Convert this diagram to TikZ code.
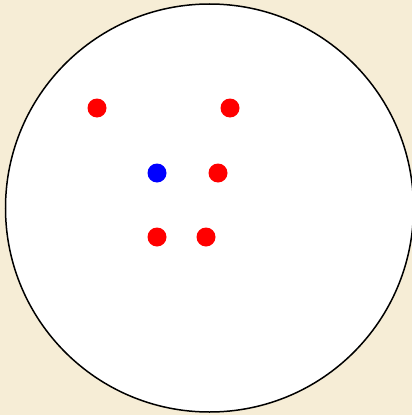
\documentclass[tikz,border=0pt]{standalone}
\usetikzlibrary{positioning}
\definecolor{paper}{RGB}{246,237,214}
\definecolor{dotred}{RGB}{255,0,0}
\definecolor{dotblue}{RGB}{0,0,255}

\begin{document}
\begin{tikzpicture}[
    x=1pt, y=-1pt,
    dot/.style={circle, minimum size=19pt, inner sep=0pt},
    red dot/.style={dot, fill=dotred},
    blue dot/.style={dot, fill=dotblue},
    rim/.style={draw=black, fill=white, line width=1.5pt},
]

% --- background ---
\fill[paper] (0,0) rectangle (412,415);
\useasboundingbox (0,0) rectangle (412,415);

% --- disc ---
\node[rim, circle, minimum size=408pt, inner sep=0pt] (disc) at (209.5,208) {};

% --- points ---
\node[red dot]  (R-1) at (97,108) {};
\node[red dot]  (R-2) at (230,108) {};
\node[blue dot] (B-1) at (157,173) {};
\node[red dot]  (R-3) at (218,173) {};
\node[red dot]  (R-4) at (157,237) {};
\node[red dot]  (R-5) at (206,237) {};

\end{tikzpicture}
\end{document}
